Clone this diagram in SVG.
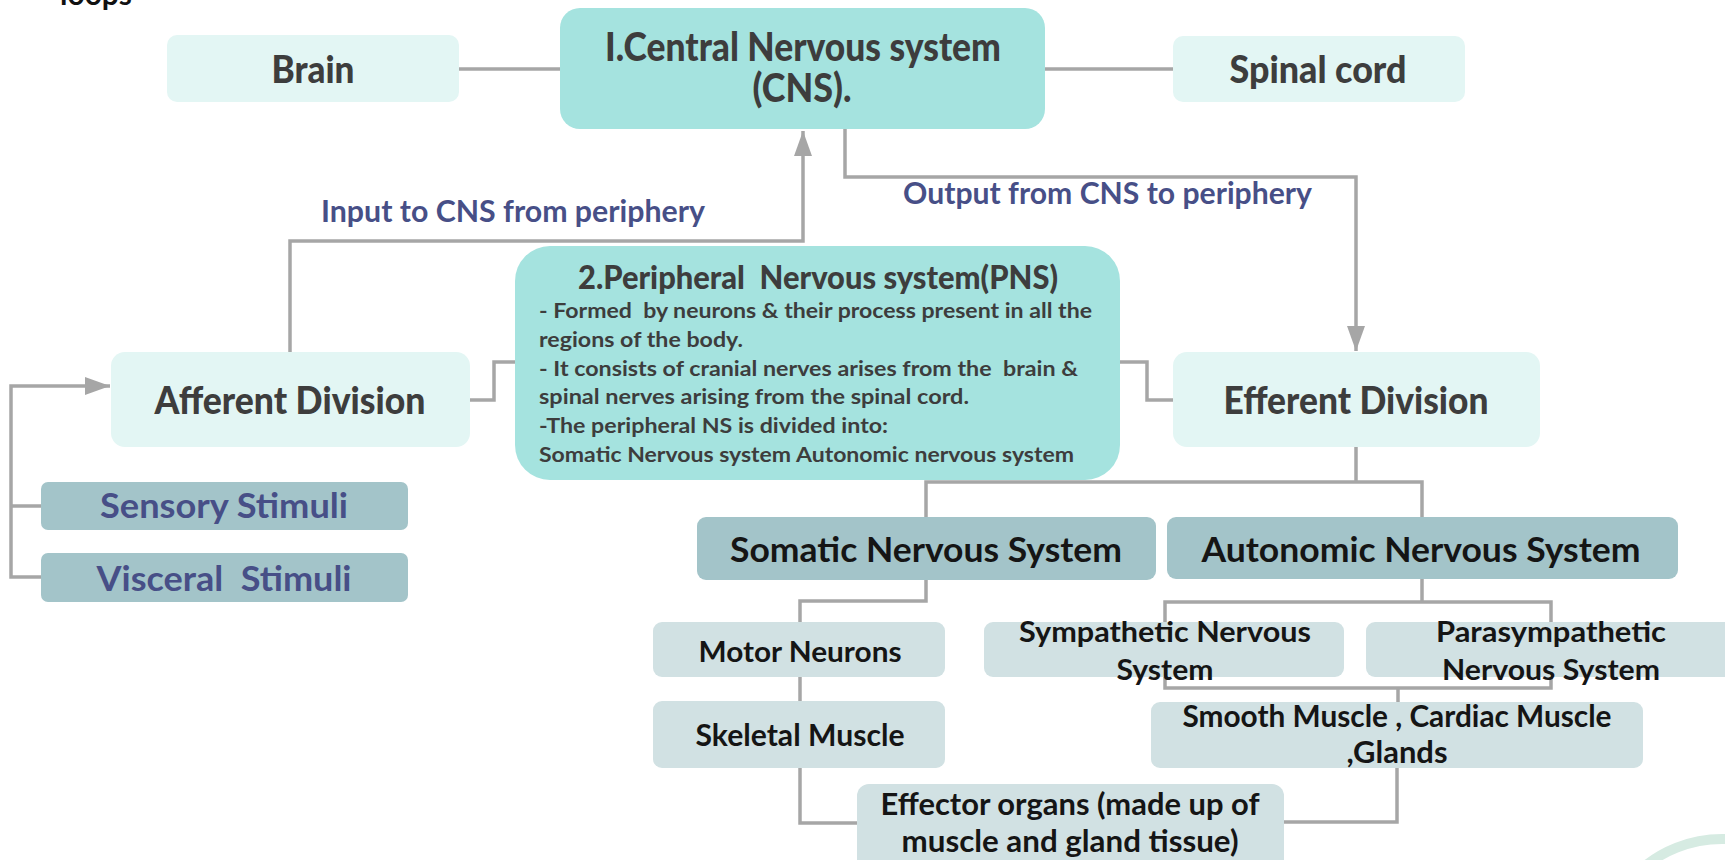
<svg xmlns="http://www.w3.org/2000/svg" width="1725" height="860" viewBox="0 0 1725 860">
<defs>
<style>
text{font-family:Lato,"Liberation Sans",sans-serif;font-weight:700;white-space:pre}
.h{font-weight:900}
.c{fill:none;stroke:#a6a6a6;stroke-width:3.5}
.top{fill:#e3f6f4}
.main{fill:#a5e3df}
.mid{fill:#a3c4c9}
.low{fill:#d1e1e3}
.dk{fill:#3d3d3d}
.bk{fill:#151515}
.bl{fill:#474f87}
.m{text-anchor:middle}
</style>
<marker id="ah" markerUnits="userSpaceOnUse" markerWidth="26" markerHeight="20" refX="25" refY="9" orient="auto">
<path d="M0,0 L25,9 L0,18 Z" fill="#a6a6a6"/>
</marker>
</defs>
<rect width="1725" height="860" fill="#ffffff"/>
<text x="60" y="5" font-size="30" fill="#111" textLength="72" lengthAdjust="spacingAndGlyphs">loops</text>
<circle cx="1722" cy="962" r="123" fill="none" stroke="#d6ebe2" stroke-width="10"/>

<g id="connectors">
<path class="c" d="M459 69 H560"/>
<path class="c" d="M1045 69 H1173"/>
<path class="c" d="M290 352 V241 H803 V131" marker-end="url(#ah)"/>
<path class="c" d="M845 129 V177 H1356 V351" marker-end="url(#ah)"/>
<path class="c" d="M41 577 H11 V386 H110" marker-end="url(#ah)"/>
<path class="c" d="M41 506 H11"/>
<path class="c" d="M470 400 H494 V362 H515"/>
<path class="c" d="M1120 362 H1147 V400 H1173"/>
<path class="c" d="M1356 447 V482"/>
<path class="c" d="M926 517 V482 H1422 V517"/>
<path class="c" d="M926 580 V601 H800 V622"/>
<path class="c" d="M800 677 V701"/>
<path class="c" d="M800 768 V823 H857"/>
<path class="c" d="M1422 579 V602"/>
<path class="c" d="M1165 602 V688 H1551 V602 Z"/>
<path class="c" d="M1398 688 V702"/>
<path class="c" d="M1397 768 V822 H1284"/>
</g>

<g id="brain">
<rect class="top" x="167" y="35" width="292" height="67" rx="10"/>
<text class="dk m h" x="313" y="83" font-size="38" textLength="83" lengthAdjust="spacingAndGlyphs">Brain</text>
</g>
<g id="cns">
<rect class="main" x="560" y="8" width="485" height="121" rx="20"/>
<text class="dk m h" x="803" y="61" font-size="40" textLength="396" lengthAdjust="spacingAndGlyphs">I.Central Nervous system</text>
<text class="dk m h" x="802" y="102" font-size="40" textLength="99" lengthAdjust="spacingAndGlyphs">(CNS).</text>
</g>
<g id="spinal">
<rect class="top" x="1173" y="36" width="292" height="66" rx="10"/>
<text class="dk m h" x="1318" y="83" font-size="38" textLength="177" lengthAdjust="spacingAndGlyphs">Spinal cord</text>
</g>
<g id="label-input">
<text class="bl" x="321" y="222" font-size="30" textLength="384" lengthAdjust="spacingAndGlyphs">Input to CNS from periphery</text>
</g>
<g id="label-output">
<text class="bl" x="903" y="204" font-size="30" textLength="409" lengthAdjust="spacingAndGlyphs">Output from CNS to periphery</text>
</g>
<g id="afferent">
<rect class="top" x="111" y="352" width="359" height="95" rx="14"/>
<text class="dk m h" x="290" y="414" font-size="37" textLength="271" lengthAdjust="spacingAndGlyphs">Afferent Division</text>
</g>
<g id="pns">
<rect class="main" x="515" y="246" width="605" height="234" rx="35"/>
<text class="dk m h" x="818" y="289" font-size="32" textLength="480" lengthAdjust="spacingAndGlyphs">2.Peripheral  Nervous system(PNS)</text>
<text class="dk" x="539" y="318" font-size="21" textLength="553" lengthAdjust="spacingAndGlyphs">- Formed  by neurons &amp; their process present in all the</text>
<text class="dk" x="539" y="347" font-size="21" textLength="204" lengthAdjust="spacingAndGlyphs">regions of the body.</text>
<text class="dk" x="539" y="376" font-size="21" textLength="539" lengthAdjust="spacingAndGlyphs">- It consists of cranial nerves arises from the  brain &amp;</text>
<text class="dk" x="539" y="404" font-size="21" textLength="430" lengthAdjust="spacingAndGlyphs">spinal nerves arising from the spinal cord.</text>
<text class="dk" x="539" y="433" font-size="21" textLength="349" lengthAdjust="spacingAndGlyphs">-The peripheral NS is divided into:</text>
<text class="dk" x="539" y="462" font-size="21" textLength="535" lengthAdjust="spacingAndGlyphs">Somatic Nervous system Autonomic nervous system</text>
</g>
<g id="efferent">
<rect class="top" x="1173" y="352" width="367" height="95" rx="14"/>
<text class="dk m h" x="1356" y="414" font-size="37" textLength="265" lengthAdjust="spacingAndGlyphs">Efferent Division</text>
</g>
<g id="sensory">
<rect class="mid" x="41" y="482" width="367" height="48" rx="7"/>
<text class="bl m" x="224" y="518" font-size="35" textLength="248" lengthAdjust="spacingAndGlyphs">Sensory Stimuli</text>
</g>
<g id="visceral">
<rect class="mid" x="41" y="553" width="367" height="49" rx="7"/>
<text class="bl m" x="224" y="591" font-size="35" textLength="255" lengthAdjust="spacingAndGlyphs">Visceral  Stimuli</text>
</g>
<g id="somatic">
<rect class="mid" x="697" y="517" width="459" height="63" rx="9"/>
<text class="bk m" x="926" y="562" font-size="34" textLength="392" lengthAdjust="spacingAndGlyphs">Somatic Nervous System</text>
</g>
<g id="autonomic">
<rect class="mid" x="1167" y="517" width="511" height="62" rx="9"/>
<text class="bk m" x="1421" y="562" font-size="34" textLength="439" lengthAdjust="spacingAndGlyphs">Autonomic Nervous System</text>
</g>
<g id="motor">
<rect class="low" x="653" y="622" width="292" height="55" rx="9"/>
<text class="bk m" x="800" y="662" font-size="29" textLength="203" lengthAdjust="spacingAndGlyphs">Motor Neurons</text>
</g>
<g id="skeletal">
<rect class="low" x="653" y="701" width="292" height="67" rx="9"/>
<text class="bk m" x="800" y="746" font-size="30" textLength="209" lengthAdjust="spacingAndGlyphs">Skeletal Muscle</text>
</g>
<g id="sympathetic">
<rect class="low" x="984" y="622" width="360" height="55" rx="9"/>
<text class="bk m" x="1165" y="642" font-size="28" textLength="292" lengthAdjust="spacingAndGlyphs">Sympathetic Nervous</text>
<text class="bk m" x="1165" y="680" font-size="28" textLength="97" lengthAdjust="spacingAndGlyphs">System</text>
</g>
<g id="parasympathetic">
<rect class="low" x="1366" y="622" width="380" height="55" rx="9"/>
<text class="bk m" x="1551" y="642" font-size="28" textLength="230" lengthAdjust="spacingAndGlyphs">Parasympathetic</text>
<text class="bk m" x="1551" y="680" font-size="28" textLength="218" lengthAdjust="spacingAndGlyphs">Nervous System</text>
</g>
<g id="smooth">
<rect class="low" x="1151" y="702" width="492" height="66" rx="9"/>
<text class="bk m" x="1397" y="727" font-size="30" textLength="429" lengthAdjust="spacingAndGlyphs">Smooth Muscle , Cardiac Muscle</text>
<text class="bk m" x="1397" y="763" font-size="30" textLength="101" lengthAdjust="spacingAndGlyphs">,Glands</text>
</g>
<g id="effector">
<rect class="low" x="857" y="784" width="427" height="100" rx="12"/>
<text class="bk m" x="1070" y="815" font-size="30" textLength="379" lengthAdjust="spacingAndGlyphs">Effector organs (made up of</text>
<text class="bk m" x="1070" y="852" font-size="30" textLength="337" lengthAdjust="spacingAndGlyphs">muscle and gland tissue)</text>
</g>
</svg>
